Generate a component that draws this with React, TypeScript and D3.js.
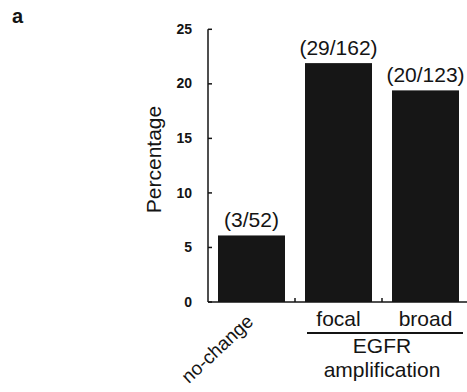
import React from "react";
import * as d3 from "d3";

const categories = ["no-change", "focal", "broad"];
const values = [6.1, 21.9, 19.4];
const barLabels = ["(3/52)", "(29/162)", "(20/123)"];
const yTicks = [0, 5, 10, 15, 20, 25];
const groupLabel = ["EGFR", "amplification"];

const W = 467;
const H = 392;

export default function App() {
  const x = d3
    .scaleBand<string>()
    .domain(categories)
    .range([208, 469])
    .paddingInner(0.23)
    .paddingOuter(0.115);
  const y = d3.scaleLinear().domain([0, 25]).range([302, 29.3]);
  const font = "'Liberation Sans', Arial, sans-serif";
  const ink = "#141414";
  const step = x.step();
  const x0 = 208;
  const x1 = 467;
  const focalX = x("focal")!;
  const broadX = x("broad")!;
  const bw = x.bandwidth();
  const groupCenter = (focalX + broadX + bw) / 2;

  return (
    <svg
      width={W}
      height={H}
      style={{ position: "absolute", left: 0, top: 0, background: "#fff" }}
      fontFamily={font}
    >
      <rect x={0} y={0} width={W} height={H} fill="#fff" />
      <text x={12} y={23} fontSize={20} fontWeight="bold" fill={ink}>
        a
      </text>

      {/* bars */}
      {categories.map((c, i) => (
        <rect
          key={c}
          x={x(c)!}
          y={y(values[i])}
          width={bw}
          height={y(0) - y(values[i])}
          fill="#161616"
        />
      ))}
      {categories.map((c, i) => (
        <text
          key={c + "l"}
          x={x(c)! + bw / 2}
          y={y(values[i]) - 8}
          fontSize={21}
          textAnchor="middle"
          fill={ink}
        >
          {barLabels[i]}
        </text>
      ))}

      {/* y axis */}
      <line x1={x0} x2={x0} y1={y(25)} y2={y(0)} stroke={ink} strokeWidth={1.5} />
      {yTicks.map((t) => (
        <g key={t}>
          <line x1={x0} x2={x0 + 4} y1={y(t)} y2={y(t)} stroke={ink} strokeWidth={1.5} />
          <text
            x={192}
            y={y(t)}
            dy="0.33em"
            fontSize={14}
            fontWeight="bold"
            textAnchor="end"
            fill={ink}
          >
            {t}
          </text>
        </g>
      ))}
      <text
        transform={`translate(161, ${(107 + 212) / 2}) rotate(-90)`}
        fontSize={21}
        textAnchor="middle"
        fill={ink}
      >
        Percentage
      </text>

      {/* x axis */}
      <line x1={x0} x2={x1} y1={y(0)} y2={y(0)} stroke={ink} strokeWidth={1.5} />
      {[1, 2].map((k) => (
        <line
          key={k}
          x1={x0 + step * k}
          x2={x0 + step * k}
          y1={y(0)}
          y2={y(0) - 4}
          stroke={ink}
          strokeWidth={1.5}
        />
      ))}

      {/* x labels */}
      <text
        transform={`translate(${x("no-change")! + bw / 2 + 3}, 323) rotate(-43)`}
        fontSize={19}
        textAnchor="end"
        fill={ink}
      >
        no-change
      </text>
      <text x={focalX + bw / 2} y={326} fontSize={21} textAnchor="middle" fill={ink}>
        focal
      </text>
      <text x={broadX + bw / 2} y={326} fontSize={21} textAnchor="middle" fill={ink}>
        broad
      </text>
      <line x1={focalX + 2} x2={broadX + bw + 4} y1={333} y2={333} stroke={ink} strokeWidth={2} />
      <text x={groupCenter} y={353} fontSize={21} textAnchor="middle" fill={ink}>
        {groupLabel[0]}
      </text>
      <text x={groupCenter} y={377} fontSize={21} textAnchor="middle" fill={ink}>
        {groupLabel[1]}
      </text>
    </svg>
  );
}
